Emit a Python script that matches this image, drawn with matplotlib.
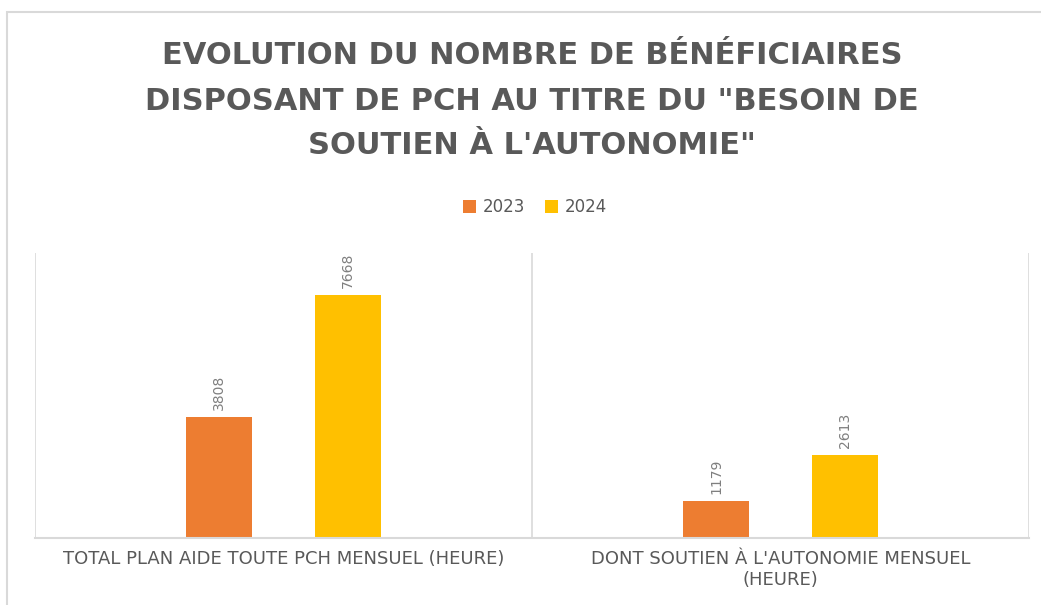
import matplotlib
matplotlib.use("Agg")
import matplotlib.pyplot as plt
from matplotlib.patches import Rectangle

categories = ["TOTAL PLAN AIDE TOUTE PCH MENSUEL (HEURE)",
              "DONT SOUTIEN À L'AUTONOMIE MENSUEL\n(HEURE)"]
series_names = ["2023", "2024"]
values_2023 = [3808, 1179]
values_2024 = [7668, 2613]
title_lines = ["EVOLUTION DU NOMBRE DE BÉNÉFICIAIRES",
               "DISPOSANT DE PCH AU TITRE DU \"BESOIN DE",
               "SOUTIEN À L'AUTONOMIE\""]

colors = ["#ED7D31", "#FFC000"]
grey_txt = "#595959"
grid_c = "#D9D9D9"

W, H = 1041, 605
fig = plt.figure(figsize=(W / 100, H / 100), dpi=100)

# chart frame
fig.patches.append(Rectangle((7 / W, -0.1), 1.2, 1 - 12 / H + 0.1,
                             transform=fig.transFigure, fill=False,
                             edgecolor=grid_c, linewidth=1.5))

ax = fig.add_axes([35 / W, 67 / H, (1029 - 35) / W, (538 - 253) / H])
x = list(range(len(categories)))
bw = 0.133
off = 0.129
b1 = ax.bar([i - off for i in x], values_2023, width=bw, color=colors[0], label=series_names[0])
b2 = ax.bar([i + off for i in x], values_2024, width=bw, color=colors[1], label=series_names[1])

for bars, vals in ((b1, values_2023), (b2, values_2024)):
    for r, v in zip(bars, vals):
        ax.annotate(str(v), (r.get_x() + r.get_width() / 2, v),
                    xytext=(0, 5), textcoords="offset points",
                    rotation=90, ha="center", va="bottom",
                    fontsize=10, color="#7F7F7F")

ax.set_xlim(-0.5, 1.5)
ax.set_ylim(0, 9000)
ax.set_yticks([])
ax.set_xticks(x)
ax.set_xticklabels(categories, fontsize=13, color=grey_txt, linespacing=1.15)
ax.tick_params(axis="x", length=0, pad=9)
for s in ["top", "right", "left"]:
    ax.spines[s].set_visible(False)
ax.spines["bottom"].set_color(grid_c)
ax.spines["bottom"].set_linewidth(1.5)
for xv in [-0.5, 0.5, 1.5]:
    ax.axvline(xv, color=grid_c, linewidth=1.2, zorder=0)

# title
for i, line in enumerate(title_lines):
    fig.text(532 / W, 1 - (56 + 45 * i) / H, line, ha="center", va="center",
             fontsize=22, fontweight="bold", color=grey_txt)

leg = fig.legend(handles=[b1, b2], loc="center", bbox_to_anchor=(535 / W, 1 - 207 / H),
                 ncol=2, frameon=False, fontsize=12, handlelength=0.8, handleheight=0.8,
                 handletextpad=0.4, columnspacing=1.2, labelcolor=grey_txt)

fig.savefig("out.png", dpi=100)
